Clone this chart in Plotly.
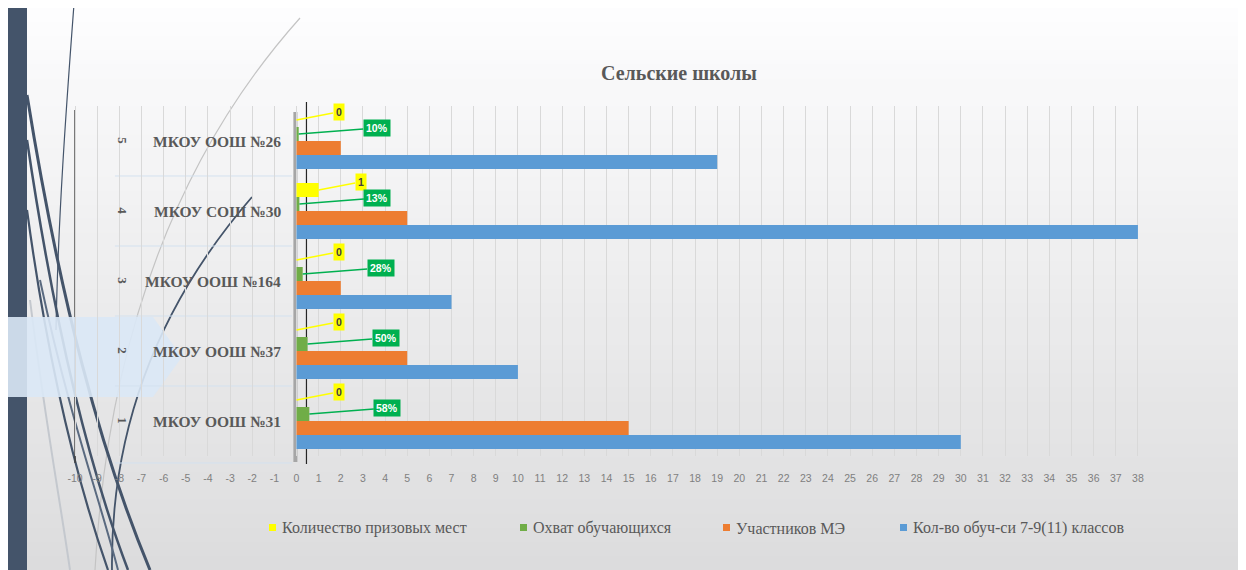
import plotly.graph_objects as go

# ---------------- data ----------------
schools = ["МКОУ ООШ №31", "МКОУ ООШ №37", "МКОУ ООШ №164", "МКОУ СОШ №30", "МКОУ ООШ №26"]
school_idx = ["1", "2", "3", "4", "5"]
students = [30, 10, 7, 38, 19]             # Кол-во обуч-си 7-9(11) классов
participants = [15, 5, 2, 5, 2]            # Участников МЭ
coverage = [0.58, 0.50, 0.28, 0.13, 0.10]  # Охват обучающихся
prizes = [0, 0, 0, 1, 0]                   # Количество призовых мест
x_ticks = list(range(-10, 39))

series_names = ["Кол-во обуч-си 7-9(11) классов", "Участников МЭ",
                "Охват обучающихся", "Количество призовых мест"]
colors = ["#5b9bd5", "#ed7d31", "#70ad47", "#ffff00"]

# page has an 8px body margin -> figure occupies window from (8, 8)
OFF = 8
W, H = 1246 - OFF, 570 - OFF
ML, MR, MT, MB = 56, 97, 98, 114
PW, PH = W - ML - MR, H - MT - MB


def P(x, y):
    """window pixel -> paper coords"""
    return (x - OFF - ML) / PW, 1 - (y - OFF - MT) / PH


fig = go.Figure()
for name, vals, col in zip(series_names, [students, participants, coverage, prizes], colors):
    fig.add_trace(go.Bar(
        y=schools, x=vals, name=name, orientation="h",
        marker=dict(color=col, line=dict(width=0)),
        hoverinfo="x+name", showlegend=False,
    ))

shapes = []
# gradient background (decoration)
n = 40
for k in range(n):
    y0 = OFF + H * k / n
    y1 = OFF + H * (k + 1) / n + 1
    t = (k + 0.5) / n
    v = int(round(253 - 33 * t))
    x0p, y0p = P(OFF, y0)
    x1p, y1p = P(W + OFF, y1)
    shapes.append(dict(type="rect", xref="paper", yref="paper", x0=x0p, x1=x1p,
                       y0=y1p, y1=y0p, fillcolor=f"rgb({v},{v},{v + 1})",
                       line=dict(width=0), layer="below"))
# dark vertical bar on the left
a, b = P(8, 0); c, d = P(27, 600)
shapes.append(dict(type="rect", xref="paper", yref="paper", x0=a, x1=c, y0=d, y1=b,
                   fillcolor="#44546a", line=dict(width=0), layer="below"))


def bez(points):
    s = "M {},{}".format(*P(*points[0]))
    s += " C " + " ".join("{},{}".format(*P(*p)) for p in points[1:])
    return s


curves = [
    ([(74, 4), (66, 110), (58, 220), (56, 330)], "#44546a", 1.2),
    ([(300, 18), (200, 130), (110, 300), (95, 570)], "#c4c4c4", 1.2),
    ([(30, 300), (45, 420), (60, 500), (70, 570)], "#c4c8ce", 2),
    ([(252, 197), (180, 280), (110, 400), (112, 570)], "#44546a", 1.8),
    ([(27, 95), (60, 300), (100, 450), (150, 570)], "#44546a", 3),
    ([(27, 140), (55, 330), (90, 470), (128, 570)], "#44546a", 2.5),
    ([(27, 210), (50, 380), (80, 490), (108, 570)], "#44546a", 2.2),
    ([(40, 280), (70, 420), (100, 500), (118, 570)], "#5a6a80", 2),
]
for pts, col, w in curves:
    shapes.append(dict(type="path", xref="paper", yref="paper", path=bez(pts),
                       line=dict(color=col, width=w), layer="below"))

# black line at -10 and zero walls
shapes.append(dict(type="line", xref="x", yref="paper", x0=-10, x1=-10, y0=P(0, 463)[1], y1=P(0, 110)[1],
                   line=dict(color="#404040", width=1.5), layer="below"))
shapes.append(dict(type="line", xref="x", yref="paper", x0=-0.05, x1=-0.05, y0=P(0, 462)[1], y1=P(0, 112)[1],
                   line=dict(color="#a6a6a6", width=4), layer="below"))
shapes.append(dict(type="line", xref="x", yref="paper", x0=0.45, x1=0.45, y0=P(0, 464)[1], y1=P(0, 102)[1],
                   line=dict(color="#262626", width=1.2), layer="below"))
# separators between categories in label area
for i in range(len(schools) - 1):
    shapes.append(dict(type="line", xref="x", yref="y", x0=-8.2, x1=-0.2, y0=i + 0.5, y1=i + 0.5,
                       line=dict(color="#d3e1ef", width=1), layer="below"))
shapes.append(dict(type="line", xref="x", yref="paper", x0=-8.2, x1=-0.2, y0=P(0, 463)[1], y1=P(0, 463)[1],
                   line=dict(color="#d3e1ef", width=1), layer="below"))

# light blue arrow (over the curves and the left bar)
pts = [(8, 317), (153, 317), (182, 357), (153, 397), (8, 397)]
pth = "M " + " L ".join("{},{}".format(*P(*p)) for p in pts) + " Z"
shapes.append(dict(type="path", xref="paper", yref="paper", path=pth,
                   fillcolor="rgba(218,232,246,0.9)", line=dict(width=0), layer="between"))

annotations = []
for i, s in enumerate(schools):
    annotations.append(dict(x=-0.6, y=i, xref="x", yref="y", text=s, showarrow=False,
                            xanchor="right", yanchor="middle",
                            font=dict(family="Liberation Serif", size=15.5, color="#595959", weight="bold")))
    annotations.append(dict(x=-7.85, y=i, xref="x", yref="y", text=school_idx[i], showarrow=False,
                            textangle=90, xanchor="center", yanchor="middle",
                            font=dict(family="Liberation Serif", size=13, color="#595959", weight="bold")))
    # prize labels
    annotations.append(dict(x=prizes[i], y=i + 0.3, xref="x", yref="y", text=str(prizes[i]),
                            showarrow=True, arrowhead=0, arrowcolor="#ffff00", arrowwidth=1.5,
                            ax=42, ay=-8, bgcolor="#ffff00", borderpad=2,
                            font=dict(family="Liberation Sans Narrow, Liberation Sans", size=10.5,
                                      color="#404040", weight="bold")))
    annotations.append(dict(x=coverage[i], y=i + 0.1, xref="x", yref="y",
                            text=f"{round(coverage[i] * 100)}%",
                            showarrow=True, arrowhead=0, arrowcolor="#00b050", arrowwidth=1.5,
                            ax=78, ay=-6, bgcolor="#00b050", borderpad=2,
                            font=dict(family="Liberation Sans Narrow, Liberation Sans", size=10.5,
                                      color="#ffffff", weight="bold")))

# legend (drawn as squares + labels, in the reference order)
legend_x = [272, 523, 726, 903]
legend_order = [3, 2, 1, 0]
for lx, si in zip(legend_x, legend_order):
    a, b = P(lx - 3, 524); c, d = P(lx + 4, 531)
    shapes.append(dict(type="rect", xref="paper", yref="paper", x0=a, x1=c, y0=d, y1=b,
                       fillcolor=colors[si], line=dict(width=0), layer="above"))
    tx, ty = P(lx + 8, 528)
    annotations.append(dict(x=tx, y=ty, xref="paper", yref="paper", text=series_names[si],
                            showarrow=False, xanchor="left", yanchor="middle",
                            font=dict(family="Liberation Serif", size=16, color="#595959")))

fig.update_layout(
    width=W, height=H,
    margin=dict(l=ML, r=MR, t=MT, b=MB, autoexpand=False),
    paper_bgcolor="#ececec", plot_bgcolor="rgba(0,0,0,0)",
    barmode="group", bargap=0.2, bargroupgap=0,
    title=dict(text="Сельские школы", x=(679 - OFF) / W, xanchor="center", xref="container",
               y=1 - (73 - OFF) / H, yanchor="middle", yref="container",
               font=dict(family="Liberation Serif", size=20, color="#595959", weight="bold")),
    xaxis=dict(range=[-10.5, 38.5], tickmode="array", tickvals=x_ticks,
               ticktext=[str(v) for v in x_ticks], showgrid=True, gridcolor="#d9d9d9",
               gridwidth=1, zeroline=False, showline=False, ticks="",
               ticklabelstandoff=14,
               tickfont=dict(family="Liberation Sans Narrow, Liberation Sans", size=10.5, color="#7f7f7f")),
    yaxis=dict(range=[-0.5, 4.5], showticklabels=False, showgrid=False, zeroline=False,
               showline=False, ticks=""),
    shapes=shapes, annotations=annotations, showlegend=False,
)

fig.write_html("out.html")
